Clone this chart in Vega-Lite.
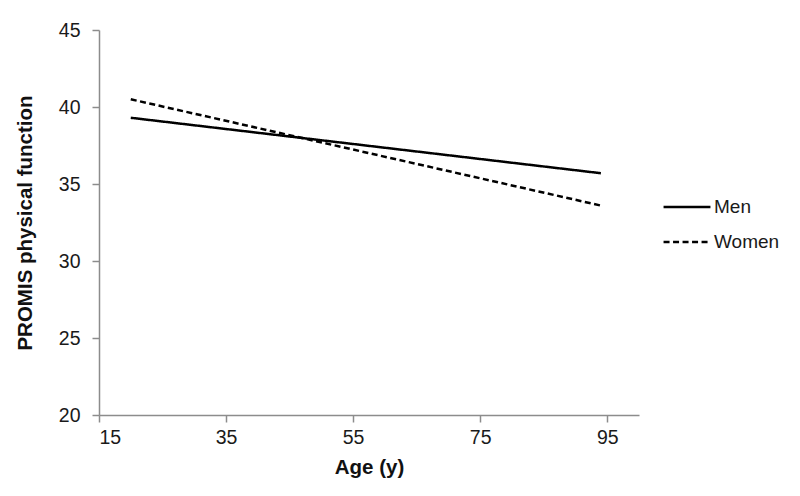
{
  "$schema": "https://vega.github.io/schema/vega-lite/v6.json",
  "width": 540,
  "height": 385,
  "autosize": {"type": "none"},
  "padding": {"left": 99, "top": 30, "right": 161, "bottom": 81},
  "background": "white",
  "config": {
    "view": {"stroke": null},
    "font": "Liberation Sans",
    "axis": {"grid": false, "domainColor": "#8c8c8c", "tickColor": "#8c8c8c", "tickSize": 7, "labelColor": "#1a1a1a", "labelFontSize": 19.5, "labelFont": "Liberation Sans", "titleFont": "Liberation Sans", "titleFontSize": 20.5, "titleFontWeight": "bold", "titleColor": "#111", "domainWidth": 1.5, "tickWidth": 1.5}
  },
  "data": {"values": [
    {"age": 20, "pf": 39.3, "sex": "Men"},
    {"age": 94, "pf": 35.7, "sex": "Men"},
    {"age": 20, "pf": 40.5, "sex": "Women"},
    {"age": 94, "pf": 33.6, "sex": "Women"}
  ]},
  "mark": {"type": "line", "strokeWidth": 2.5, "color": "black"},
  "encoding": {
    "x": {"field": "age", "type": "quantitative", "scale": {"domain": [15, 100], "nice": false, "zero": false},
      "axis": {"values": [15, 35, 55, 75, 95], "title": "Age (y)", "labelPadding": 6, "titlePadding": 11}},
    "y": {"field": "pf", "type": "quantitative", "scale": {"domain": [20, 45], "nice": false, "zero": false},
      "axis": {"values": [20, 25, 30, 35, 40, 45], "title": "PROMIS physical function", "labelPadding": 12, "titlePadding": 23}},
    "strokeDash": {"field": "sex", "type": "nominal",
      "scale": {"domain": ["Men", "Women"], "range": [[1, 0], [6, 3.5]]},
      "legend": {"title": null, "orient": "none", "legendX": 563, "legendY": 152, "symbolType": "stroke", "symbolSize": 2200, "symbolStrokeWidth": 2.5, "symbolStrokeColor": "black", "labelFontSize": 19, "labelColor": "#1a1a1a", "labelFont": "Liberation Sans", "rowPadding": -22, "labelOffset": 2}}
  }
}
